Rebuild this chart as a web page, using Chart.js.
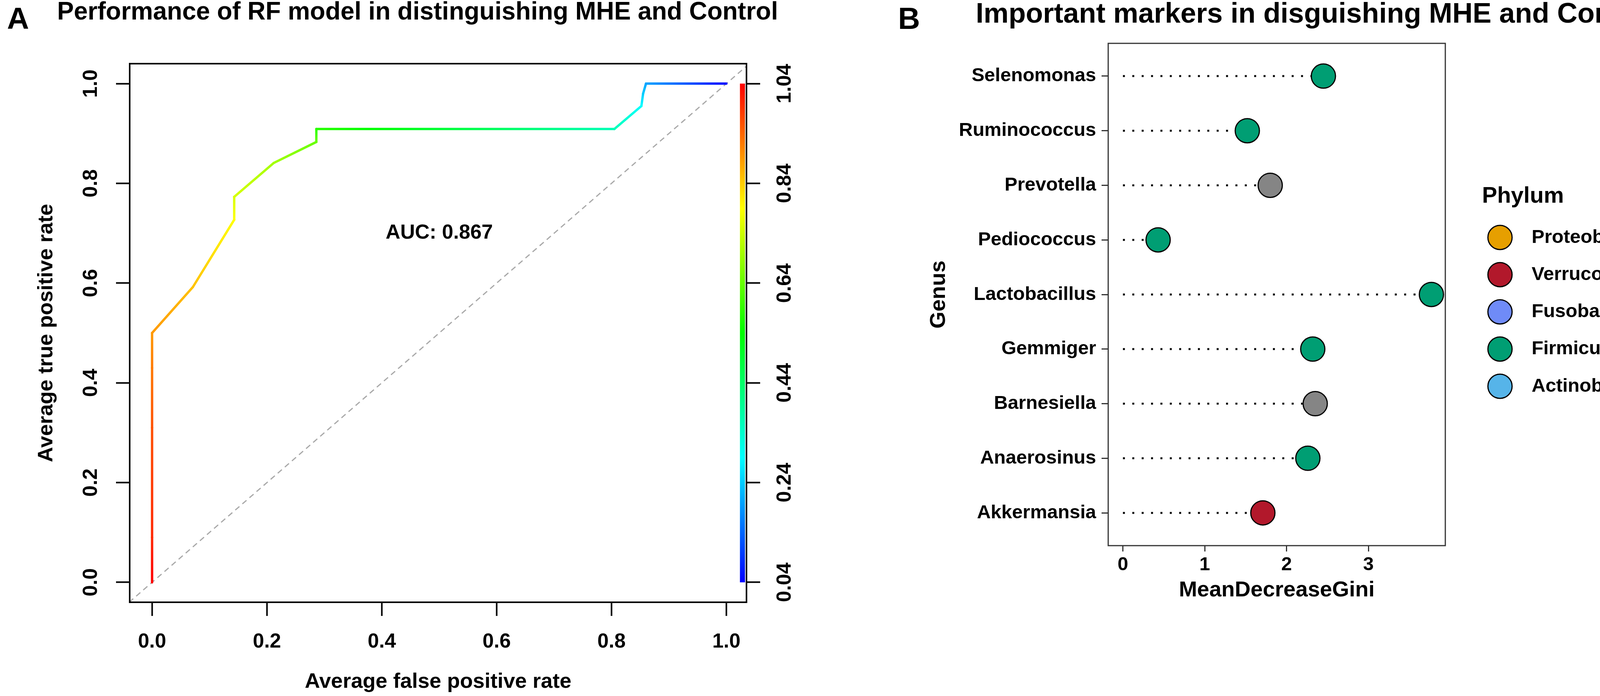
<!DOCTYPE html>
<html>
<head>
<meta charset="utf-8">
<title>RF model performance and marker importance</title>
<script src="https://cdn.jsdelivr.net/npm/chart.js@4.4.1/dist/chart.umd.min.js"></script>
<style>
  html, body { margin: 0; padding: 0; background: #fff; overflow: hidden; width: 4317px; height: 1782px; }
  body { position: relative; }
  canvas { position: absolute; top: 0; }
  #rocChart { left: 0; }
  #giniChart { left: 2370px; }
  .tag { position: absolute; top: 8px; font: bold 78px "Liberation Sans", Arial, sans-serif; line-height: 1; }
</style>
</head>
<body>
<div class="tag" style="left:18px">A</div>
<div class="tag" style="left:2299px">B</div>
<canvas id="rocChart" width="2138" height="1782"></canvas>
<canvas id="giniChart" width="1947" height="1782"></canvas>
<script>
// Panel A: averaged ROC curve
const fpr = [0, 0, 0, 0, 0, 0.071, 0.143, 0.143, 0.212, 0.286, 0.286, 0.805, 0.852, 0.855, 0.860, 1.0];
const tpr = [0, 0.09, 0.31, 0.43, 0.50, 0.592, 0.727, 0.773, 0.841, 0.883, 0.909, 0.909, 0.955, 0.980, 1.0, 1.0];
const cutoffs = [1.04, 1.0, 0.96, 0.92, 0.89, 0.85, 0.79, 0.75, 0.70, 0.64, 0.58, 0.36, 0.29, 0.24, 0.20, 0.05];
const rateTicks = [0, 0.2, 0.4, 0.6, 0.8, 1.0];
const cutoffTicks = [0.04, 0.24, 0.44, 0.64, 0.84, 1.04];
const chanceLine = [-0.04, 1.04];
const aucText = 'AUC: 0.867';

// Panel B: random forest variable importance
const genus = ['Akkermansia', 'Anaerosinus', 'Barnesiella', 'Gemmiger', 'Lactobacillus',
  'Pediococcus', 'Prevotella', 'Ruminococcus', 'Selenomonas'];
const meanDecreaseGini = [1.71, 2.26, 2.35, 2.32, 3.77, 0.43, 1.80, 1.52, 2.45];
const genusPhylum = ['Verrucomicrobia', 'Firmicutes', null, 'Firmicutes', 'Firmicutes',
  'Firmicutes', null, 'Firmicutes', 'Firmicutes'];
const giniTicks = [0, 1, 2, 3];
const phyla = ['Proteobacteria', 'Verrucomicrobia', 'Fusobacteria', 'Firmicutes', 'Actinobacteria'];
const phylumColors = ['#E69F00', '#B2182B', '#6F8BF7', '#009E73', '#56B4E9'];
const naColor = '#858585';

const FONT = '"Liberation Sans", Arial, Helvetica, sans-serif';
Chart.defaults.font.family = FONT;
Chart.defaults.font.weight = 'bold';
Chart.defaults.color = '#000';
Chart.defaults.animation = false;

// rainbow palette like ROCR colorize: low cutoff blue, high cutoff red
const cutoffColor = (c) => {
  const lo = cutoffTicks[0];
  const hi = cutoffTicks[cutoffTicks.length - 1];
  const t = Math.min(1, Math.max(0, (hi - c) / (hi - lo)));
  return `hsl(${t * 240}, 100%, 50%)`;
};

function cutoffGradient(ctx2d, p0, p1, c0, c1) {
  const g = ctx2d.createLinearGradient(p0.x, p0.y, p1.x, p1.y);
  for (let i = 0; i <= 12; i++) {
    const t = i / 12;
    g.addColorStop(t, cutoffColor(c0 + (c1 - c0) * t));
  }
  return g;
}

const setTicks = (values) => (scale) => {
  scale.ticks = values.map((value) => ({ value }));
};

const panelFrame = {
  id: 'panelFrame',
  afterDatasetsDraw(chart, args, opts) {
    const { ctx, chartArea: a } = chart;
    ctx.save();
    ctx.strokeStyle = opts.color;
    ctx.lineWidth = opts.width;
    ctx.strokeRect(a.left, a.top, a.right - a.left, a.bottom - a.top);
    ctx.restore();
  }
};

const aucLabel = {
  id: 'aucLabel',
  afterDatasetsDraw(chart) {
    const { ctx, scales: { x, y } } = chart;
    ctx.save();
    ctx.font = `bold 52px ${FONT}`;
    ctx.fillStyle = '#000';
    ctx.textAlign = 'center';
    ctx.textBaseline = 'middle';
    ctx.fillText(aucText, x.getPixelForValue(0.5), y.getPixelForValue(0.70));
    ctx.restore();
  }
};

const phylumLegend = {
  id: 'phylumLegend',
  afterDraw(chart, args, opts) {
    const { ctx, chartArea: a } = chart;
    const mid = (a.top + a.bottom) / 2;
    ctx.save();
    ctx.textAlign = 'left';
    ctx.textBaseline = 'middle';
    ctx.fillStyle = '#000';
    ctx.font = `bold 58px ${FONT}`;
    ctx.fillText(opts.title, a.right + 94, mid - 251);
    ctx.font = `bold 49px ${FONT}`;
    phyla.forEach((name, i) => {
      const y = mid - 146 + i * 95.25;
      ctx.beginPath();
      ctx.arc(a.right + 140, y, 31, 0, Math.PI * 2);
      ctx.fillStyle = phylumColors[i];
      ctx.fill();
      ctx.lineWidth = 3;
      ctx.strokeStyle = '#000';
      ctx.stroke();
      ctx.fillStyle = '#000';
      ctx.fillText(name, a.right + 221, y);
    });
    ctx.restore();
  }
};

// ROC chart
const rocCanvas = document.getElementById('rocChart');
const rocCtx = rocCanvas.getContext('2d');
const colorbarX = 1.028;
const colorbarY = [cutoffTicks[0], cutoffTicks[cutoffTicks.length - 1]];

new Chart(rocCanvas, {
  type: 'scatter',
  data: {
    datasets: [
      {
        label: 'ROC',
        data: fpr.map((x, i) => ({ x, y: tpr[i] })),
        showLine: true,
        borderWidth: 6,
        borderCapStyle: 'round',
        borderJoinStyle: 'round',
        pointRadius: 0,
        order: 0,
        segment: {
          borderColor: (s) => cutoffGradient(rocCtx, s.p0, s.p1, cutoffs[s.p0DataIndex], cutoffs[s.p1DataIndex])
        }
      },
      {
        label: 'cutoff colorbar',
        data: colorbarY.map((y) => ({ x: colorbarX, y })),
        yAxisID: 'y2',
        showLine: true,
        borderWidth: 13,
        borderCapStyle: 'butt',
        pointRadius: 0,
        order: 1,
        segment: {
          borderColor: (s) => cutoffGradient(rocCtx, s.p0, s.p1, colorbarY[s.p0DataIndex], colorbarY[s.p1DataIndex])
        }
      },
      {
        label: 'chance',
        data: chanceLine.map((v) => ({ x: v, y: v })),
        showLine: true,
        borderColor: '#a8a8a8',
        borderWidth: 3,
        borderDash: [14, 10],
        pointRadius: 0,
        order: 2
      }
    ]
  },
  options: {
    responsive: false,
    layout: { padding: 0 },
    plugins: {
      legend: { display: false },
      tooltip: { enabled: false },
      title: {
        display: true,
        text: 'Performance of RF model in distinguishing MHE and Control',
        font: { size: 64, lineHeight: 1 },
        padding: { top: 0, bottom: 99 }
      },
      panelFrame: { color: '#000', width: 4 }
    },
    scales: {
      x: {
        type: 'linear',
        min: -0.039,
        max: 1.035,
        afterBuildTicks: setTicks(rateTicks),
        afterFit: (s) => { s.height = 240; },
        grid: { drawOnChartArea: false, tickLength: 35, tickWidth: 4, tickColor: '#000' },
        border: { display: false },
        ticks: { autoSkip: false, maxRotation: 0, padding: 35, font: { size: 52 }, callback: (v) => v.toFixed(1) },
        title: { display: true, text: 'Average false positive rate', font: { size: 54 }, padding: { top: 0, bottom: 3 } }
      },
      y: {
        type: 'linear',
        position: 'left',
        min: -0.04,
        max: 1.04,
        afterBuildTicks: setTicks(rateTicks),
        afterFit: (s) => { s.width = 332; },
        grid: { drawOnChartArea: false, tickLength: 35, tickWidth: 4, tickColor: '#000' },
        border: { display: false },
        ticks: {
          autoSkip: false, minRotation: 90, maxRotation: 90, crossAlign: 'center',
          padding: 27, font: { size: 52 }, callback: (v) => v.toFixed(1)
        },
        title: { display: true, text: 'Average true positive rate', font: { size: 54 }, padding: { top: 87, bottom: 0 } }
      },
      y2: {
        type: 'linear',
        position: 'right',
        min: 0,
        max: 1.08,
        afterBuildTicks: setTicks(cutoffTicks),
        afterFit: (s) => { s.width = 227; },
        grid: { drawOnChartArea: false, tickLength: 35, tickWidth: 4, tickColor: '#000' },
        border: { display: false },
        ticks: {
          autoSkip: false, minRotation: 90, maxRotation: 90, crossAlign: 'center',
          padding: 13, font: { size: 52 }, callback: (v) => v.toFixed(2)
        }
      }
    }
  },
  plugins: [panelFrame, aucLabel]
});

// Importance lollipop chart
const stems = meanDecreaseGini.map((v, i) => ({
  label: genus[i],
  data: [{ x: 0, y: i + 1 }, { x: v, y: i + 1 }],
  showLine: true,
  borderColor: '#000',
  borderWidth: 5,
  borderDash: [5, 19],
  borderCapStyle: 'butt',
  pointRadius: 0,
  order: 1
}));

new Chart(document.getElementById('giniChart'), {
  type: 'scatter',
  data: {
    datasets: [
      {
        label: 'MeanDecreaseGini',
        data: meanDecreaseGini.map((x, i) => ({ x, y: i + 1 })),
        pointRadius: 31,
        pointBorderWidth: 3,
        pointBorderColor: '#000',
        pointBackgroundColor: genusPhylum.map((p) => (p ? phylumColors[phyla.indexOf(p)] : naColor)),
        order: 0
      },
      ...stems
    ]
  },
  options: {
    responsive: false,
    layout: { padding: { left: 53 } },
    plugins: {
      legend: { display: false },
      tooltip: { enabled: false },
      title: {
        display: true,
        text: 'Important markers in disguishing MHE and Control',
        font: { size: 72, lineHeight: 1 },
        padding: { top: 2, bottom: 37 }
      },
      panelFrame: { color: '#333', width: 3 },
      phylumLegend: { title: 'Phylum' }
    },
    scales: {
      x: {
        type: 'linear',
        min: -0.18,
        max: 3.94,
        afterBuildTicks: setTicks(giniTicks),
        afterFit: (s) => { s.height = 385; },
        grid: { drawOnChartArea: false, tickLength: 15, tickWidth: 3, tickColor: '#333' },
        border: { display: false },
        ticks: { autoSkip: false, maxRotation: 0, padding: 5, font: { size: 49 }, callback: (v) => String(v) },
        title: { display: true, text: 'MeanDecreaseGini', font: { size: 56 }, padding: { top: 0, bottom: 237 } }
      },
      y: {
        type: 'linear',
        min: 0.4,
        max: 9.6,
        afterBuildTicks: setTicks(genus.map((g, i) => i + 1)),
        afterFit: (s) => { s.width = 414; },
        grid: { drawOnChartArea: false, tickLength: 17, tickWidth: 3, tickColor: '#333' },
        border: { display: false },
        ticks: { autoSkip: false, padding: 14, font: { size: 49 }, callback: (v) => genus[v - 1] },
        title: { display: true, text: 'Genus', font: { size: 56 }, padding: { top: -53, bottom: 0 } }
      },
      yLegend: {
        axis: 'y',
        type: 'linear',
        position: 'right',
        ticks: { display: false },
        grid: { display: false },
        border: { display: false },
        afterFit: (s) => { s.width = 617; }
      }
    }
  },
  plugins: [panelFrame, phylumLegend]
});
</script>
</body>
</html>
